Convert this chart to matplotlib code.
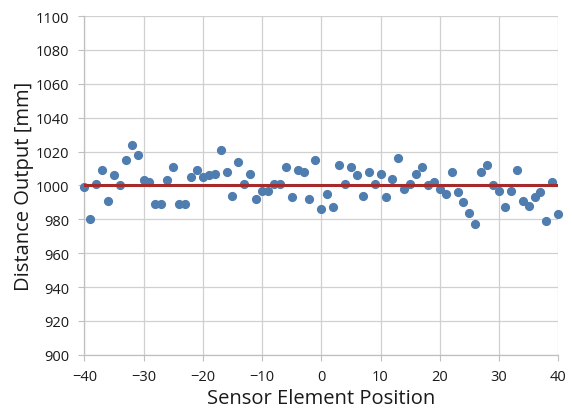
import matplotlib
matplotlib.use("Agg")
import matplotlib.pyplot as plt
import numpy as np

positions = list(range(-40, 41))
distance = [
    999, 980, 1001, 1009, 991, 1006, 1000, 1015, 1024, 1018,
    1003, 1002, 989, 989, 1003, 1011, 989, 989, 1005, 1009,
    1005, 1006, 1007, 1021, 1008, 994, 1014, 1001, 1007, 992,
    997, 997, 1001, 1001, 1011, 993, 1009, 1008, 992, 1015,
    986, 995, 987, 1012, 1001, 1011, 1006, 994, 1008, 1001,
    1007, 993, 1004, 1016, 998, 1001, 1007, 1011, 1000, 1002,
    998, 995, 1008, 996, 990, 984, 977, 1008, 1012, 1000,
    997, 987, 997, 1009, 991, 988, 993, 996, 979, 1002,
    983,
]
reference_x = [-40, 40]
reference_y = [1000, 1000]

plt.rcParams['font.family'] = ['Open Sans', 'DejaVu Sans']

fig = plt.figure(figsize=(5.72, 4.10), dpi=100)
ax = fig.add_axes([0.1474, 0.132, 0.8286, 0.8265])

ax.set_xlim(-40, 40)
ax.set_ylim(900, 1100)
ax.set_xticks(np.arange(-40, 41, 10))
ax.set_yticks(np.arange(900, 1101, 20))
ax.grid(True, color='#d0d0d0', linewidth=0.9)
ax.set_axisbelow(True)

for side in ['top', 'right']:
    ax.spines[side].set_visible(False)
for side in ['left', 'bottom']:
    ax.spines[side].set_color('#bfbfbf')
    ax.spines[side].set_linewidth(0.9)

ax.tick_params(axis='both', direction='out', length=4, color='#bfbfbf',
               labelsize=10.5, labelcolor='#1a1a1a')
ax.tick_params(axis='x', pad=6)
ax.tick_params(axis='y', pad=7)

ax.plot(positions, distance, linestyle='none', marker='o', markersize=5.6,
        color='#4f7db0', clip_on=False, zorder=3)
ax.plot(reference_x, reference_y, color='#a52a2a', linewidth=2.2, zorder=4)

ax.set_xlabel('Sensor Element Position', fontsize=14.5, color='#1a1a1a', labelpad=3)
ax.set_ylabel('Distance Output [mm]', fontsize=14.5, color='#1a1a1a', labelpad=1)

fig.savefig('out.png', dpi=100)
